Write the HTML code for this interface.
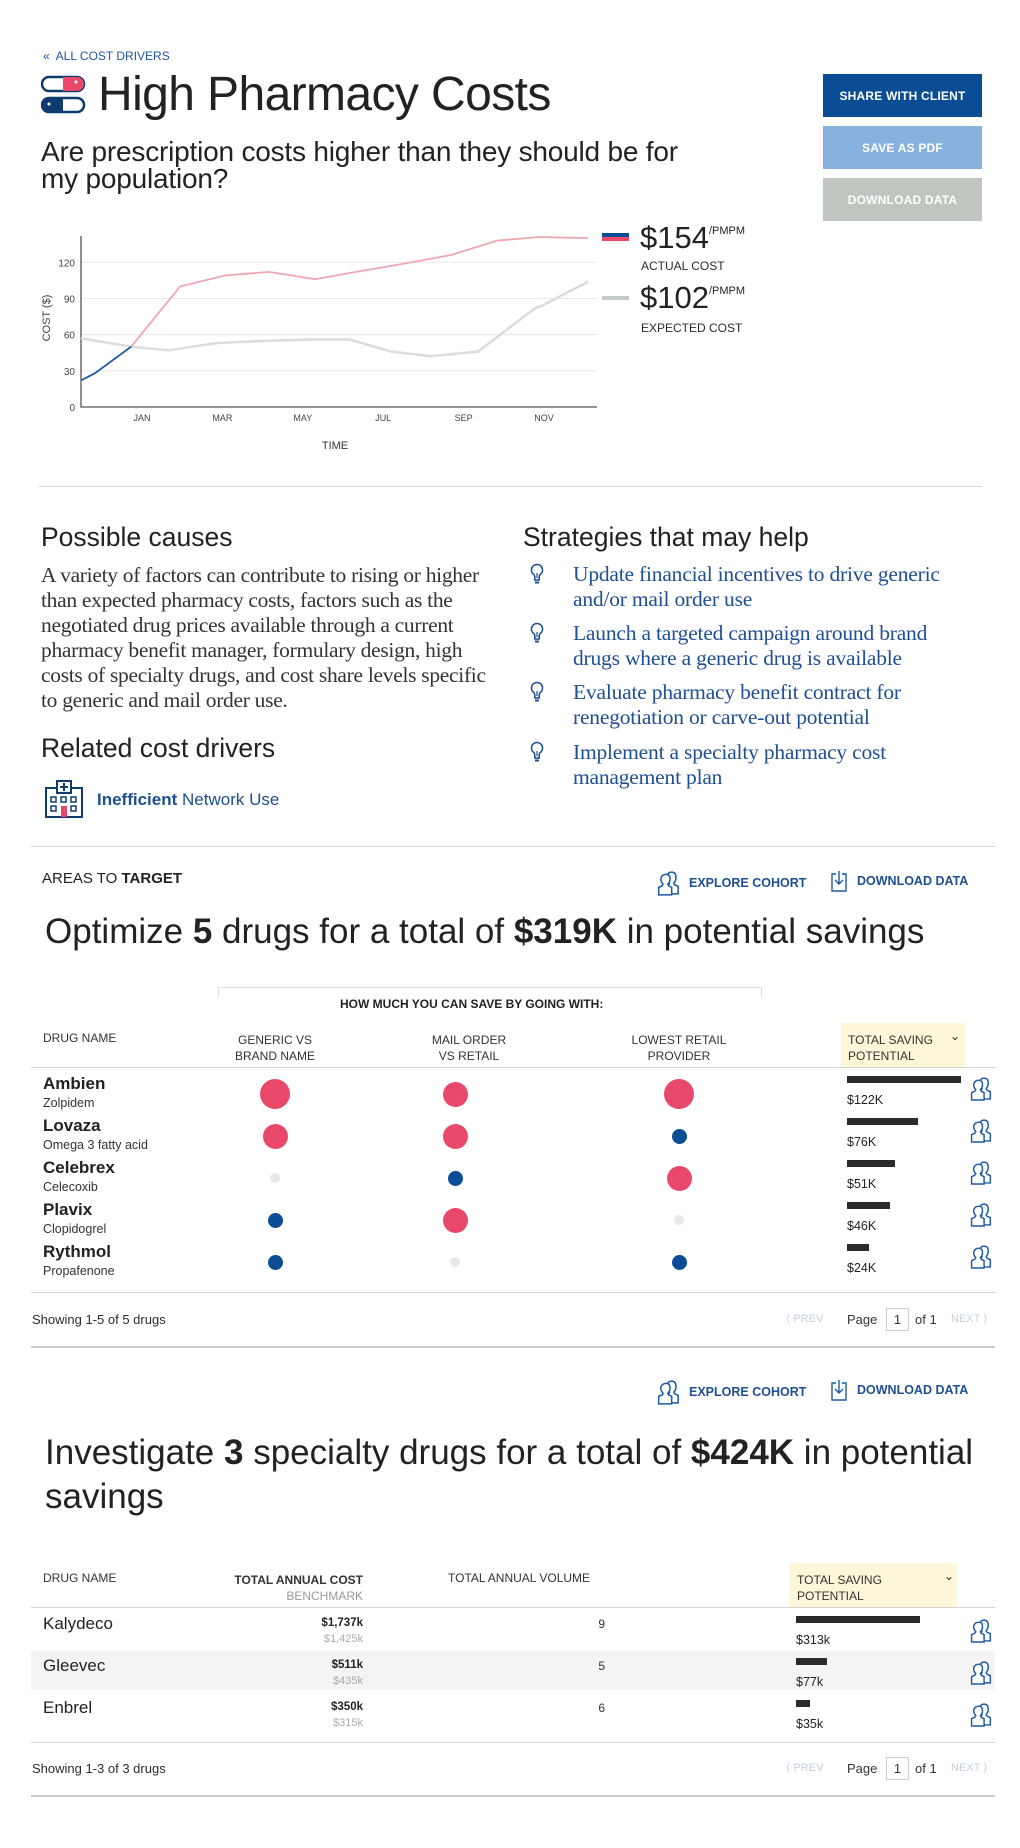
<!DOCTYPE html>
<html><head><meta charset="utf-8">
<style>
*{box-sizing:border-box;margin:0;padding:0}
body{width:1020px;height:1848px;background:#fff;position:relative;font-family:"Liberation Sans",Arial,sans-serif;color:#2b2b2b;overflow:hidden}
.t{position:absolute;white-space:nowrap;line-height:1}
.hr{position:absolute;height:1px;background:#d4d4d4}
.btn{position:absolute;left:823px;width:159px;height:43px;color:#fff;font-weight:bold;font-size:12px;display:flex;align-items:center;justify-content:center;letter-spacing:.2px}
.serif{font-family:"Liberation Serif",serif}
.blue{color:#1f4f93}
.hdr{font-size:12px;color:#333}
.bold{font-weight:bold}
</style></head><body>

<div class="t blue" style="left:43px;top:50px;font-size:12px;color:#1f56a3">«&nbsp; ALL COST DRIVERS</div>

<svg style="position:absolute;left:41px;top:75px" width="45" height="40" viewBox="0 0 45 40">
<rect x="1" y="2" width="42" height="14" rx="7" fill="#fff" stroke="#0d3b6e" stroke-width="2.5"/>
<path d="M22 2 H36 A7 7 0 0 1 36 16 H22 Z" fill="#e8496b"/>
<circle cx="35" cy="7" r="1.5" fill="#fff"/>
<rect x="1" y="23" width="42" height="14" rx="7" fill="#fff" stroke="#0d3b6e" stroke-width="2.5"/>
<path d="M22 23 H8 A7 7 0 0 0 8 37 H22 Z" fill="#0d3b6e"/>
<circle cx="8" cy="29" r="1.5" fill="#fff"/>
</svg>
<div class="t" style="left:98px;top:71px;font-size:48px;color:#222;letter-spacing:-0.6px">High Pharmacy Costs</div>
<div class="t" style="left:41px;top:138px;font-size:28px;line-height:27px;color:#222;letter-spacing:-0.2px">Are prescription costs higher than they should be for<br>my population?</div>

<div class="btn" style="top:74px;background:#0a4d94">SHARE WITH CLIENT</div>
<div class="btn" style="top:126px;background:#86b2dd">SAVE AS PDF</div>
<div class="btn" style="top:178px;background:#bfc6c0">DOWNLOAD DATA</div>

<svg id="chart" style="position:absolute;left:0;top:220px" width="620" height="240"></svg>

<div>
<div style="position:absolute;left:602px;top:233px;width:27px;height:4px;background:#0a4d94"></div>
<div style="position:absolute;left:602px;top:237px;width:27px;height:4px;background:#e8496b"></div>
<div class="t" style="left:640px;top:222px;font-size:31px;color:#222">$154<span style="font-size:11px;vertical-align:14px">/PMPM</span></div>
<div class="t" style="left:641px;top:260px;font-size:12px">ACTUAL COST</div>
</div>
<div>
<div style="position:absolute;left:602px;top:296px;width:27px;height:4px;background:#c4cbc6"></div>
<div class="t" style="left:640px;top:282px;font-size:31px;color:#222">$102<span style="font-size:11px;vertical-align:14px">/PMPM</span></div>
<div class="t" style="left:641px;top:322px;font-size:12px">EXPECTED COST</div>
</div>

<div class="hr" style="left:39px;top:486px;width:943px"></div>

<div class="t" style="left:41px;top:524px;font-size:26.5px;color:#222">Possible causes</div>
<div class="t serif" style="left:41px;top:563px;font-size:21.5px;line-height:25px;color:#333;letter-spacing:-0.3px">A variety of factors can contribute to rising or higher<br>than expected pharmacy costs, factors such as the<br>negotiated drug prices available through a current<br>pharmacy benefit manager, formulary design, high<br>costs of specialty drugs, and cost share levels specific<br>to generic and mail order use.</div>

<div class="t" style="left:41px;top:735px;font-size:26.5px;color:#222">Related cost drivers</div>
<svg style="position:absolute;left:44px;top:780px" width="40" height="38" viewBox="0 0 40 38">
<rect x="2" y="8" width="36" height="29" fill="#fff" stroke="#0d3b6e" stroke-width="2"/>
<rect x="13" y="1" width="14" height="12" fill="#fff" stroke="#0d3b6e" stroke-width="2"/>
<path d="M20 3v8M16 7h8" stroke="#0d3b6e" stroke-width="2"/>
<g fill="none" stroke="#0d3b6e" stroke-width="1.5"><rect x="7" y="17" width="5" height="5"/><rect x="17" y="17" width="5" height="5"/><rect x="27" y="17" width="5" height="5"/><rect x="7" y="26" width="5" height="5"/><rect x="27" y="26" width="5" height="5"/></g>
<rect x="17" y="26" width="6" height="11" fill="#e8496b"/>
</svg>
<div class="t" style="left:97px;top:791px;font-size:17px;color:#1f4f93"><b>Inefficient</b> Network Use</div>

<div class="t" style="left:523px;top:524px;font-size:26.5px;color:#222">Strategies that may help</div>
<div id="strategies"></div>

<div class="hr" style="left:31px;top:846px;width:964px"></div>

<div class="t" style="left:42px;top:871px;font-size:15px;color:#222">AREAS TO <b>TARGET</b></div>
<div id="actions1"></div>
<div class="t" style="left:45px;top:914px;font-size:35px;color:#222">Optimize <b>5</b> drugs for a total of <b>$319K</b> in potential savings</div>

<!-- table 1 -->
<div style="position:absolute;left:218px;top:987px;width:544px;height:10px;border:1px solid #ddd;border-bottom:none"></div>
<div class="t bold" style="left:340px;top:998px;font-size:12px;color:#222">HOW MUCH YOU CAN SAVE BY GOING WITH:</div>
<div class="t hdr" style="left:43px;top:1032px">DRUG NAME</div>
<div class="t hdr" style="left:215px;width:120px;text-align:center;top:1032px;line-height:16px">GENERIC VS<br>BRAND NAME</div>
<div class="t hdr" style="left:409px;width:120px;text-align:center;top:1032px;line-height:16px">MAIL ORDER<br>VS RETAIL</div>
<div class="t hdr" style="left:619px;width:120px;text-align:center;top:1032px;line-height:16px">LOWEST RETAIL<br>PROVIDER</div>
<div style="position:absolute;left:841px;top:1023px;width:124px;height:44px;background:#fdf6d8"></div>
<div class="t hdr" style="left:848px;top:1032px;line-height:16px">TOTAL SAVING<br>POTENTIAL</div>
<div class="t" style="left:950px;top:1030px;font-size:12px">&#8964;</div>
<div class="hr" style="left:31px;top:1067px;width:964px"></div>
<div id="table1"></div>
<div class="hr" style="left:31px;top:1292px;width:964px"></div>
<div class="t" style="left:32px;top:1313px;font-size:13px">Showing 1-5 of 5 drugs</div>
<div id="pager1"></div>
<div class="hr" style="left:31px;top:1346px;width:964px;height:2px;background:#ccc"></div>

<div id="actions2"></div>
<div class="t" style="left:45px;top:1431px;font-size:35px;line-height:44px;color:#222">Investigate <b>3</b> specialty drugs for a total of <b>$424K</b> in potential<br>savings</div>

<!-- table 2 -->
<div class="t hdr" style="left:43px;top:1572px">DRUG NAME</div>
<div class="t hdr" style="left:203px;width:160px;text-align:right;top:1572px;line-height:16px"><b>TOTAL ANNUAL COST</b><br><span style="color:#999">BENCHMARK</span></div>
<div class="t hdr" style="left:448px;top:1572px">TOTAL ANNUAL VOLUME</div>
<div style="position:absolute;left:789px;top:1563px;width:168px;height:44px;background:#fdf6d8"></div>
<div class="t hdr" style="left:797px;top:1572px;line-height:16px">TOTAL SAVING<br>POTENTIAL</div>
<div class="t" style="left:944px;top:1570px;font-size:12px">&#8964;</div>
<div class="hr" style="left:31px;top:1607px;width:964px"></div>
<div style="position:absolute;left:31px;top:1651px;width:964px;height:39px;background:#f3f4f3"></div>
<div id="table2"></div>
<div class="hr" style="left:31px;top:1742px;width:964px"></div>
<div class="t" style="left:32px;top:1762px;font-size:13px">Showing 1-3 of 3 drugs</div>
<div id="pager2"></div>
<div class="hr" style="left:31px;top:1795px;width:964px;height:2px;background:#ccc"></div>

<script>
// ---------- line chart data ----------
const monthLabels = ["JAN","MAR","MAY","JUL","SEP","NOV"];
const monthTickIdx = [0,2,4,6,8,10];
const yTicks = [0,30,60,90,120];
const actualBlueX = [-1.52,-1.17,-0.27];
const actualBlueY = [22,28,50];
const actualX = [-0.27,0.95,2.06,3.16,4.3,5.32,6.54,7.69,8.83,9.88,11.1];
const actualY = [50,100,109,112,106,112,119,126,138,141,140];
const expectedX = [-1.52,-0.27,0.67,1.84,3.13,4.28,5.17,6.19,7.19,8.36,9.78,9.95,11.1];
const expectedY = [57,50,47,53,55,56,56,46,42,46,82,84,104];

// ---------- table 1 data ----------
const drugs1 = ["Ambien","Lovaza","Celebrex","Plavix","Rythmol"];
const generics1 = ["Zolpidem","Omega 3 fatty acid","Celecoxib","Clopidogrel","Propafenone"];
const genericLevel = [3,2,0,1,1];
const mailLevel = [2,2,1,2,0];
const retailLevel = [3,1,2,0,1];
const savings1 = [122,76,51,46,24];
const savingsLabels1 = ["$122K","$76K","$51K","$46K","$24K"];

// ---------- table 2 data ----------
const drugs2 = ["Kalydeco","Gleevec","Enbrel"];
const annualCost = ["$1,737k","$511k","$350k"];
const benchmark = ["$1,425k","$435k","$315k"];
const volume = [9,5,6];
const savings2 = [313,77,35];
const savingsLabels2 = ["$313k","$77k","$35k"];

const strategies = [
 ["Update financial incentives to drive generic","and/or mail order use"],
 ["Launch a targeted campaign around brand","drugs where a generic drug is available"],
 ["Evaluate pharmacy benefit contract for","renegotiation or carve-out potential"],
 ["Implement a specialty pharmacy cost","management plan"]
];

const NS="http://www.w3.org/2000/svg";
function sv(tag,attrs,parent){const e=document.createElementNS(NS,tag);for(const k in attrs)e.setAttribute(k,attrs[k]);parent.appendChild(e);return e;}

// chart (svg top offset 220)
const OY=220;
const xS=m=>142+40.2*m;
const yS=v=>407-OY-1.206*v;
const svg=document.getElementById('chart');
yTicks.forEach(v=>{
  if(v>0){const g=sv('line',{x1:81,x2:597,y1:yS(v),y2:yS(v),stroke:'#e3e8e8','stroke-width':1},svg);
  
  }
  const t=sv('text',{x:75,y:yS(v)+4,'text-anchor':'end','font-size':10,fill:'#444','font-family':'Liberation Sans'},svg);
  t.textContent=v;
  
  
});
monthLabels.forEach((m,i)=>{
  const t=sv('text',{x:xS(monthTickIdx[i]),y:421-OY,'text-anchor':'middle','font-size':9,fill:'#444','font-family':'Liberation Sans'},svg);
  t.textContent=m;
  
  
});
const ax=sv('path',{d:`M81 ${236-OY} V${407-OY} H597`,fill:'none',stroke:'#555','stroke-width':1.3},svg);


const xt=sv('text',{x:335,y:449-OY,'text-anchor':'middle','font-size':11,fill:'#333','font-family':'Liberation Sans'},svg);
xt.textContent='TIME';


const yt=sv('text',{x:0,y:0,'text-anchor':'middle','font-size':11,fill:'#444','font-family':'Liberation Sans',transform:`translate(50 ${318-OY}) rotate(-90)`},svg);
yt.textContent='COST ($)';


function pts(xs,ys){return xs.map((x,i)=>xS(x).toFixed(1)+','+yS(ys[i]).toFixed(1)).join(' ');}
const le=sv('polyline',{points:pts(expectedX,expectedY),fill:'none',stroke:'#dcdcdc','stroke-width':2.5},svg);


const la=sv('polyline',{points:pts(actualX,actualY),fill:'none',stroke:'#f0a5b3','stroke-width':1.8},svg);


const lb=sv('polyline',{points:pts(actualBlueX,actualBlueY),fill:'none',stroke:'#1f5aa6','stroke-width':1.8},svg);



// helpers for html
function div(style,html,parent){const d=document.createElement('div');d.style.cssText=style;d.innerHTML=html||'';(parent||document.body).appendChild(d);return d;}
const cohortSvg=(w,h)=>`<svg width="${w}" height="${h}" viewBox="0 0 22 24"><g fill="#fff" stroke="#1f5aa6" stroke-width="1.4"><path d="M13 2c3 0 4 2 4 5s-1 4-2 5c0 2 2 2 4 3v7H7v-7c2-1 4-1 4-3-1-1-2-2-2-5s1-5 4-5z"/><path d="M8 4c2.5 0 3.5 2 3.5 4.5s-1 3.5-2 4.5c0 2 2 2 3.5 3V23H1v-7c2-1 4-1 4-3-1-1-2-2-2-4.5S5 4 8 4z"/></g></svg>`;
const dlSvg=`<svg width="18" height="22" viewBox="0 0 18 22"><path d="M6 4H2v17h14V4h-4" fill="none" stroke="#1f5aa6" stroke-width="1.4"/><path d="M9 1v13M5 10l4 4 4-4" fill="none" stroke="#1f5aa6" stroke-width="1.4"/></svg>`;

// strategies
const stC=document.getElementById('strategies');
const stY=[575,634,693,753];
strategies.forEach((s,i)=>{
  const ic=div(`position:absolute;left:530px;top:${stY[i]-12}px`,`<svg width="14" height="22" viewBox="0 0 14 22"><path d="M7 1.5a5.5 5.5 0 0 0-3.2 10c.8.7 1 1.5 1 2.5v3h4.4v-3c0-1 .2-1.8 1-2.5A5.5 5.5 0 0 0 7 1.5z" fill="none" stroke="#1f4f93" stroke-width="1.6"/><path d="M5 18.5h4v2H5z" fill="#1f4f93"/><path d="M7 10v5" stroke="#1f4f93" stroke-width="1.2"/></svg>`,stC);
  
  
  const t=div(`position:absolute;left:573px;top:${stY[i]-13}px;font-family:'Liberation Serif',serif;font-size:21.5px;line-height:25px;color:#1f4f93;white-space:nowrap;letter-spacing:-0.2px`,s.join('<br>'),stC);
  
  
});

// action rows
function actions(y,id){
  const c=document.getElementById(id);
  const e=div(`position:absolute;left:656px;top:${y-12}px;display:flex;align-items:center;gap:6px;font-size:12.5px;font-weight:bold;color:#1f4f93`,cohortSvg(27,26)+'<span>EXPLORE COHORT</span>',c);
  
  
  const d=div(`position:absolute;left:830px;top:${y-12}px;display:flex;align-items:center;gap:9px;font-size:12.5px;font-weight:bold;color:#1f4f93`,dlSvg+'<span>DOWNLOAD DATA</span>',c);
  
  
}
actions(882,'actions1');
actions(1391,'actions2');

// pager
function pager(y,id){
  const c=document.getElementById(id);
  const p=div(`position:absolute;left:786px;top:${y-8}px;font-size:11px;color:#c5cfe0`,'&#10216; PREV',c);
  
  
  div(`position:absolute;left:847px;top:${y-8}px;font-size:13px;color:#333`,'Page',c);
  const b=div(`position:absolute;left:886px;top:${y-12}px;width:23px;height:23px;border:1px solid #ccc;font-size:13px;text-align:center;line-height:21px;color:#333`,'1',c);
  
  
  div(`position:absolute;left:915px;top:${y-8}px;font-size:13px;color:#333`,'of 1',c);
  const n=div(`position:absolute;left:951px;top:${y-8}px;font-size:11px;color:#c5cfe0`,'NEXT &#10217;',c);
  
  
}
pager(1320,'pager1');
pager(1769,'pager2');

// table 1
const t1=document.getElementById('table1');
const colX=[275,455,679];
const levelR=[5,7.5,12.5,15];
const levelC=['#e8e8e8','#0a4d94','#e8496b','#e8496b'];
const barScale1=114/122;
drugs1.forEach((d,i)=>{
  const y=1084+42*i;
  const n=div(`position:absolute;left:43px;top:${y-9}px;font-size:17px;font-weight:bold;color:#222;white-space:nowrap;line-height:1`,d,t1);
  
  
  const g=div(`position:absolute;left:43px;top:${y+13}px;font-size:12.5px;color:#333;white-space:nowrap;line-height:1`,generics1[i],t1);
  
  
  [genericLevel,mailLevel,retailLevel].forEach((arr,j)=>{
    const r=levelR[arr[i]];
    const cy=y+10;
    const dot=div(`position:absolute;left:${colX[j]-r}px;top:${cy-r}px;width:${2*r}px;height:${2*r}px;border-radius:50%;background:${levelC[arr[i]]}`,'',t1);
    
    
  });
  const bar=div(`position:absolute;left:847px;top:${y-8}px;width:${savings1[i]*barScale1}px;height:7px;background:#2b2b2e`,'',t1);
  
  
  const l=div(`position:absolute;left:847px;top:${y+10}px;font-size:12.5px;color:#222;line-height:1`,savingsLabels1[i],t1);
  
  
  const ic=div(`position:absolute;left:970px;top:${y-8}px`,cohortSvg(24,25),t1);
  
  
});

// table 2
const t2=document.getElementById('table2');
const barScale2=124/313;
drugs2.forEach((d,i)=>{
  const y=1624+42*i;
  const n=div(`position:absolute;left:43px;top:${y-9}px;font-size:17px;color:#222;white-space:nowrap;line-height:1`,d,t2);
  
  
  const c=div(`position:absolute;left:263px;width:100px;text-align:right;top:${y-6}px;font-size:11.5px;font-weight:bold;color:#222;line-height:1`,annualCost[i],t2);
  
  
  const b=div(`position:absolute;left:263px;width:100px;text-align:right;top:${y+10}px;font-size:11px;color:#aaa;line-height:1`,benchmark[i],t2);
  
  
  const v=div(`position:absolute;left:555px;width:50px;text-align:right;top:${y-6}px;font-size:12px;color:#333;line-height:1`,volume[i],t2);
  
  
  const bar=div(`position:absolute;left:796px;top:${y-8}px;width:${savings2[i]*barScale2}px;height:7px;background:#2b2b2e`,'',t2);
  
  
  const l=div(`position:absolute;left:796px;top:${y+10}px;font-size:12.5px;color:#222;line-height:1`,savingsLabels2[i],t2);
  
  
  const ic=div(`position:absolute;left:970px;top:${y-6}px`,cohortSvg(24,25),t2);
  
  
});
</script>
</body></html>
